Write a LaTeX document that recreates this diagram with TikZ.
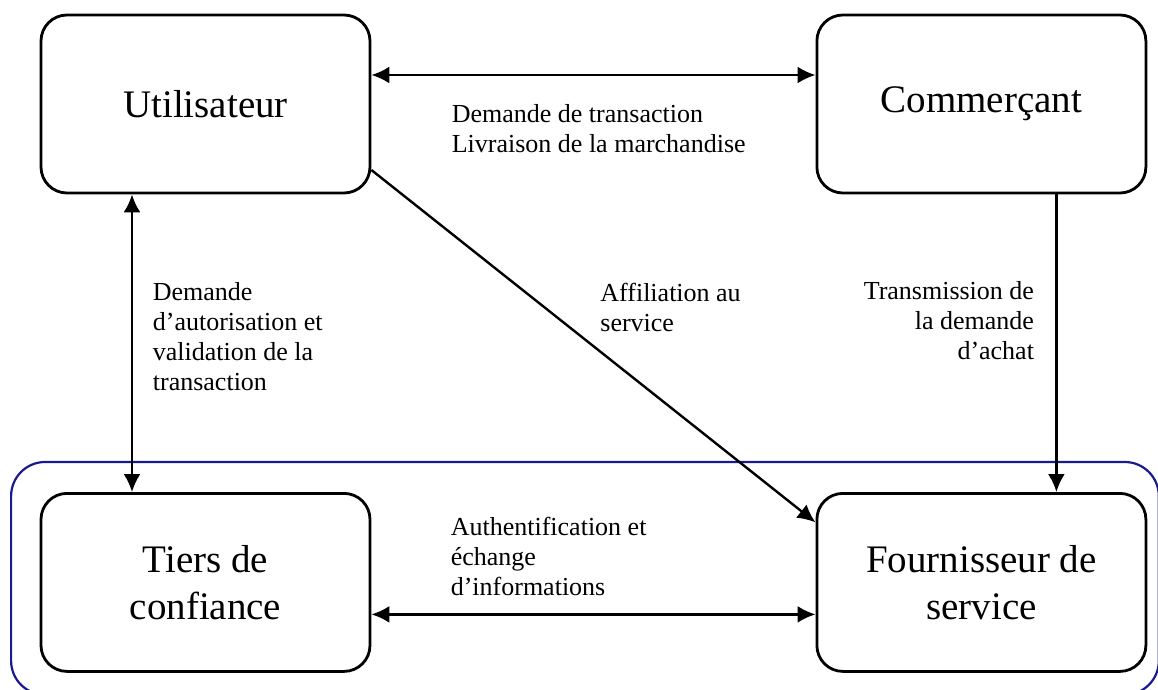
\documentclass[tikz,border=0pt]{standalone}
\usepackage{fontspec}
\setmainfont{Liberation Serif}
\usetikzlibrary{arrows.meta,positioning}
\pgfdeclarelayer{background}
\pgfsetlayers{background,main}
\definecolor{zoneblue}{RGB}{25,25,145}
\tikzstyle{acteur}=[draw, line width=1.4pt, rounded corners=13pt, fill=white,
  minimum width=164.5pt, minimum height=89pt, align=center,
  font=\fontsize{19.5}{23.5}\selectfont]
\tikzstyle{texte}=[inner sep=0pt, font=\fontsize{13}{15}\selectfont]
\tikzstyle{line}=[draw, line width=1.2pt, ->]
\tikzstyle{biline}=[line, <->]
\newcommand{\acteur}[2]{node (#1) [acteur] {#2}}
\newcommand{\background}[2]{%
  \begin{pgfonlayer}{background}
    % Left-top corner of the zone
    \path (#1.west |- #1.north)+(-28.5,-30) coordinate (z1);
    % Right-bottom corner of the zone
    \path (#2.east |- #2.south)+(11.5,22) coordinate (z2);
    % Draw the zone
    \path[draw=zoneblue, line width=1.1pt, rounded corners=17pt] (z1) rectangle (z2);
  \end{pgfonlayer}}

\begin{document}
\begin{tikzpicture}[x=0.5pt, y=-0.5pt, >={Latex[length=9pt,width=8.5pt]}]
  \useasboundingbox (0,0) rectangle (1158,690);

  % actors
  \path (205.5,104) \acteur{USER}{Utilisateur};
  \path (USER.east)+(610,0) \acteur{COMM}{Commerçant};
  \path (USER.south)+(0,388) \acteur{TIERS}{Tiers de\\ confiance};
  \path (TIERS.east)+(610,0) \acteur{FOURN}{Fournisseur de\\ service};

  \background{TIERS}{FOURN}

  % connectors
  \path [biline] ([yshift=14.5pt]USER.east) -- ([yshift=14.5pt]COMM.west);
  \path [biline] ([xshift=-36.75pt]USER.south) -- ([xshift=-36.75pt]TIERS.north);
  \path [line] ([yshift=-33pt]USER.east) -- ([yshift=30pt]FOURN.west);
  \path [line] ([xshift=37.5pt]COMM.south) -- ([xshift=37.5pt]FOURN.north);
  \path [biline] ([yshift=-16pt]TIERS.east) -- ([yshift=-16pt]FOURN.west);

  % labels
  \path (USER.east)+(80,0) node (LTRANS) [texte, anchor=north west, align=left]
    {Demande de transaction\\ Livraison de la marchandise};
  \path (USER.south)+(-53,88) node (LAUTH) [texte, anchor=north west, align=left]
    {Demande\\ d’autorisation et\\ validation de la\\ transaction};
  \path (USER.south)+(394.5,88) node (LAFFIL) [texte, anchor=north west, align=left]
    {Affiliation au\\ service};
  \path (COMM.south)+(53,87) node (LTRANSM) [texte, anchor=north east, align=right]
    {Transmission de\\ la demande\\ d’achat};
  \path (TIERS.east)+(79,-66) node (LECH) [texte, anchor=north west, align=left]
    {Authentification et\\ échange\\ d’informations};

\end{tikzpicture}
\end{document}
